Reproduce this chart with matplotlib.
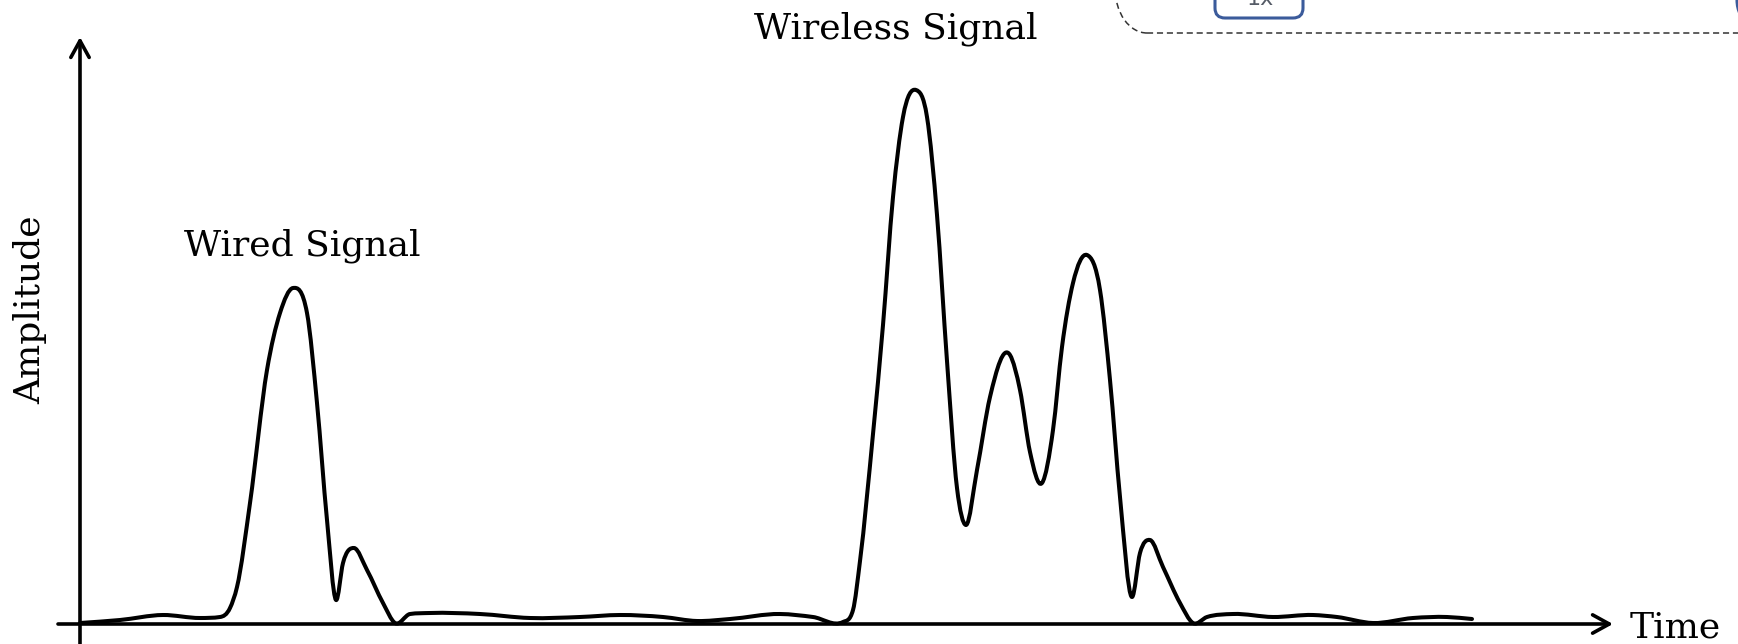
import numpy as np
import matplotlib
matplotlib.use("Agg")
import matplotlib.pyplot as plt
from matplotlib.path import Path
from matplotlib.patches import PathPatch, FancyBboxPatch, Arc

# Received signal trace: time (arbitrary units) and amplitude (arbitrary units)
time = [0.0, 4.0, 8.3, 12.0, 14.0, 15.0, 15.7, 17.0, 18.7, 20.0, 21.3, 22.7,
        23.7, 24.7, 25.6, 26.3, 27.4, 28.7, 30.3, 31.5, 33.0, 35.0, 40.0, 45.0,
        50.0, 54.0, 58.3, 61.7, 65.0, 70.0, 73.3, 76.3, 77.3, 78.0, 79.3, 80.3,
        81.3, 82.3, 83.6, 84.7, 85.7, 86.7, 87.7, 88.6, 89.7, 91.0, 93.0, 94.0,
        95.0, 96.2, 97.3, 98.2, 99.3, 100.7, 102.0, 103.0, 104.0, 105.2, 106.0,
        107.0, 108.3, 110.0, 111.3, 112.7, 115.3, 119.3, 123.3, 125.7, 129.3,
        133.3, 136.7, 139.2]
amplitude = [0.1, 0.4, 0.9, 0.6, 0.7, 1.6, 3.7, 12.1, 25.4, 31.1, 33.6, 31.1,
             22.1, 10.4, 2.4, 6.1, 7.6, 5.4, 2.1, 0.1, 1.0, 1.1, 1.0, 0.6,
             0.7, 0.9, 0.7, 0.3, 0.5, 1.0, 0.7, 0.2, 1.4, 6.3, 19.0, 29.9,
             42.7, 50.7, 53.4, 50.7, 40.9, 26.3, 13.6, 9.9, 15.4, 22.7, 26.9, 23.4,
             17.2, 14.1, 19.4, 27.7, 34.1, 36.9, 33.4, 24.4, 12.7, 2.7, 7.1,
             8.4, 5.7, 2.1, 0.1, 0.7, 1.0, 0.7, 0.9, 0.7, 0.1,
             0.6, 0.7, 0.5]

label_wired = "Wired Signal"
label_wireless = "Wireless Signal"
x_label = "Time"
y_label = "Amplitude"

SERIF = ["DejaVu Serif"]
FS = 26


def smooth_path(xs, ys):
    """Cubic Hermite path through every sample, as Beziers.

    Three-point slopes, limited so that no segment overshoots its ends.
    """
    x = np.asarray(xs, float)
    y = np.asarray(ys, float)
    h = np.diff(x)
    s = np.diff(y) / h
    m = np.zeros_like(y)
    m[0], m[-1] = s[0], s[-1]
    for i in range(1, len(x) - 1):
        mi = (h[i] * s[i - 1] + h[i - 1] * s[i]) / (h[i - 1] + h[i])
        lim = 3.0 * min(abs(s[i - 1]), abs(s[i]))
        m[i] = np.clip(mi, -lim, lim)
    verts = [(x[0], y[0])]
    codes = [Path.MOVETO]
    for i in range(len(x) - 1):
        verts += [(x[i] + h[i] / 3, y[i] + m[i] * h[i] / 3),
                  (x[i + 1] - h[i] / 3, y[i + 1] - m[i + 1] * h[i] / 3),
                  (x[i + 1], y[i + 1])]
        codes += [Path.CURVE4] * 3
    return Path(verts, codes)


fig = plt.figure(figsize=(17.38, 6.44), dpi=100)
ax = fig.add_axes([0, 0, 1, 1])
ax.set_xlim(-8.0, 165.8)
ax.set_ylim(-2.0, 62.4)
ax.axis("off")

# signal trace
ax.add_patch(PathPatch(smooth_path(time, amplitude), facecolor="none",
                       edgecolor="black", lw=2.9, capstyle="round",
                       joinstyle="round", zorder=3))

# axes drawn as arrows
arrow_kw = dict(arrowstyle="->,head_length=0.6,head_width=0.33",
                lw=2.6, color="black", mutation_scale=20,
                shrinkA=0, shrinkB=0)
ax.annotate("", xy=(153.3, 0.0), xytext=(-2.2, 0.0), arrowprops=arrow_kw)
ax.annotate("", xy=(0.0, 58.7), xytext=(0.0, -2.0), arrowprops=arrow_kw)

ax.text(155.0, -1.4, x_label, family=SERIF, fontsize=FS, ha="left", va="baseline")
ax.text(-5.0, 31.4, y_label, family=SERIF, fontsize=FS, rotation=90,
        ha="center", va="center")
ax.text(22.25, 36.9, label_wired, family=SERIF, fontsize=FS,
        ha="center", va="baseline")
ax.text(81.6, 58.6, label_wireless, family=SERIF, fontsize=FS,
        ha="center", va="baseline")

# toolbar frame at the top edge
ov = fig.add_axes([0, 0, 1, 1])
ov.set_xlim(0, 1738)
ov.set_ylim(644, 0)
ov.axis("off")
ov.patch.set_alpha(0)
ov.plot([1147, 1738], [33, 33], color="#333333", lw=1.1, ls=(0, (4, 2.5)))
ov.add_patch(Arc((1147, -12), 64, 90, theta1=90, theta2=180, color="#333333",
                 lw=1.1, ls=(0, (4, 2.5))))
ov.add_patch(FancyBboxPatch((1215, -30), 88, 48,
                            boxstyle="round,pad=0,rounding_size=10",
                            facecolor="white", edgecolor="#3b5b9b", lw=2.2))
ov.text(1260, 5, "1x", fontsize=16, color="#555b66", ha="center", va="baseline",
        clip_on=True)
ov.add_patch(Arc((1748, 0), 22, 40, theta1=90, theta2=270, color="#3b5b9b", lw=2.2))

fig.savefig("out.png", dpi=100)
